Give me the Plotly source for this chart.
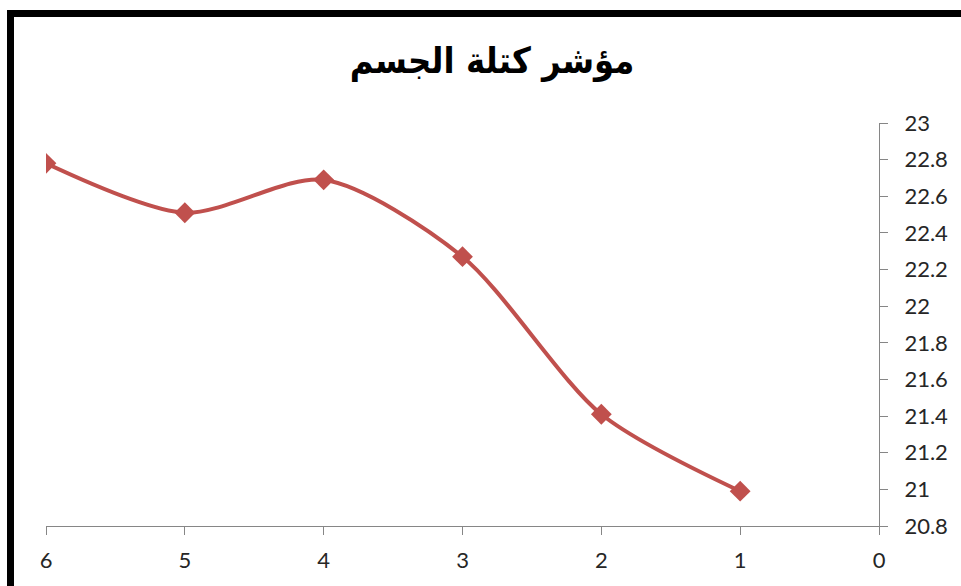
import plotly.graph_objects as go

# Body mass index readings per session
sessions = [6, 5, 4, 3, 2, 1]
bmi = [22.78, 22.51, 22.69, 22.27, 21.41, 20.99]

y_ticks = [20.8, 21, 21.2, 21.4, 21.6, 21.8, 22, 22.2, 22.4, 22.6, 22.8, 23]
y_labels = ["20.8", "21", "21.2", "21.4", "21.6", "21.8", "22", "22.2", "22.4", "22.6", "22.8", "23"]
x_ticks = [6, 5, 4, 3, 2, 1, 0]

title_text = "<b>مؤشر كتلة الجسم</b>"

W, H = 961, 586
L, R, T, B = 46, 82, 123, 60
pw, ph = W - L - R, H - T - B


def px_x(px):
    return (px - L) / pw


def px_y(py):
    return (H - B - py) / ph


fig = go.Figure()
fig.add_trace(go.Scatter(
    x=sessions, y=bmi,
    mode="lines+markers",
    line=dict(color="#C0504D", width=4, shape="spline", smoothing=0.8),
    marker=dict(symbol="diamond", size=16, color="#C0504D"),
    showlegend=False,
    hoverinfo="x+y",
))

axis_font = dict(family="Lato, Open Sans, sans-serif", size=22, color="#262626")

fig.update_layout(
    width=W, height=H,
    margin=dict(l=L, r=R, t=T, b=B),
    paper_bgcolor="white", plot_bgcolor="white",
    title=dict(text=title_text, x=0.512, xanchor="center", y=1 - 60 / H, yanchor="middle",
               font=dict(family="DejaVu Sans Condensed, DejaVu Sans, sans-serif", size=36, color="black")),
    xaxis=dict(range=[6, 0], tickvals=x_ticks, ticktext=[str(v) for v in x_ticks],
               showgrid=False, zeroline=False, showline=True, linecolor="#868686", linewidth=1,
               ticks="outside", ticklen=8, tickcolor="#868686", tickfont=axis_font,
               ticklabelstandoff=7),
    yaxis=dict(range=[20.8, 23], tickvals=y_ticks, ticktext=y_labels, side="right",
               showgrid=False, zeroline=False, showline=True, linecolor="#868686", linewidth=1,
               ticks="outside", ticklen=8, tickcolor="#868686", tickfont=axis_font,
               ticklabelstandoff=12),
    shapes=[
        # thick outer frame along the top and left edges
        dict(type="line", xref="paper", yref="paper",
             x0=px_x(7), x1=px_x(W + 5), y0=px_y(13.5), y1=px_y(13.5),
             line=dict(color="black", width=7)),
        dict(type="line", xref="paper", yref="paper",
             x0=px_x(10.5), x1=px_x(10.5), y0=px_y(10), y1=px_y(H + 5),
             line=dict(color="black", width=7)),
    ],
)

fig.write_html("out.html")
